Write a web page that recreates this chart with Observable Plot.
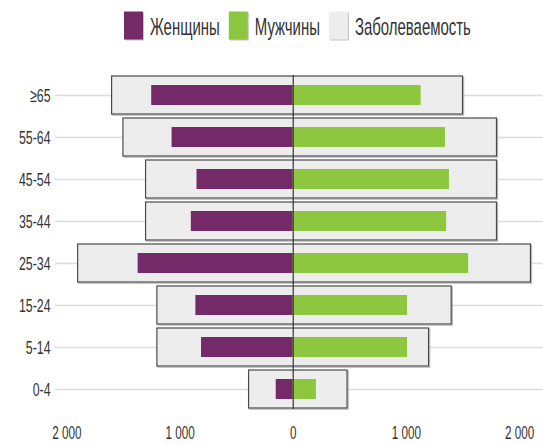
<!DOCTYPE html>
<html><head><meta charset="utf-8">
<script src="https://cdn.jsdelivr.net/npm/d3@7"></script>
<script src="https://cdn.jsdelivr.net/npm/@observablehq/plot@0.6"></script>
<style>
html,body{margin:0;padding:0;background:#fff;overflow:hidden;}
body{font-family:"Liberation Sans",Arial,sans-serif;}
svg{display:block;}
</style></head><body>
<div id="legend"></div>
<div id="chart"></div>
<script>
const ages = ["≥65","55-64","45-54","35-44","25-34","15-24","5-14","0-4"];
const women = [1250,1070,850,900,1370,860,810,150];
const men = [1130,1345,1380,1355,1550,1010,1010,205];
const incidenceWomen = [1600,1500,1300,1300,1900,1200,1200,390];
const incidenceMen = [1500,1800,1800,1800,2100,1400,1200,480];
const xTicks = [-2000,-1000,0,1000,2000];
const seriesNames = ["Женщины","Мужчины","Заболеваемость"];
const seriesColors = ["#742a68","#8dc63f","#ededed"];

const rows = ages.map((age,i)=>({age, women: women[i], men: men[i], incW: incidenceWomen[i], incM: incidenceMen[i]}));
const SQUISH = 0.65;

// Legend (above the chart)
const leg = d3.select("#legend").append("svg").attr("width",543).attr("height",52);
let lx = 124;
seriesNames.forEach((name,i)=>{
  leg.append("rect").attr("x",lx+1).attr("y",12.5).attr("width",19).attr("height",28).attr("fill","#c4c4c4");
  leg.append("rect").attr("x",lx).attr("y",11.5).attr("width",19).attr("height",28).attr("fill",seriesColors[i]);
  const t = leg.append("text")
    .attr("transform",`translate(${lx+26},35) scale(${SQUISH},1)`)
    .attr("font-size",23).attr("fill","#333")
    .attr("font-family","'Liberation Sans', Arial, sans-serif")
    .text(name);
  const w = t.node().getComputedTextLength()*SQUISH;
  lx += 26 + w + 9;
});

const fmt = d => d === 0 ? "0" : d3.format(",")(Math.abs(d)).replace(",", "\u00a0");

const chart = Plot.plot({
  width: 543, height: 393,
  marginLeft: 55, marginRight: 0, marginTop: 23, marginBottom: 36,
  style: {fontFamily: "'Liberation Sans', Arial, sans-serif", fontSize: "19px", color: "#333", background: "#fff"},
  x: {domain: [-2100, 2211]},
  y: {domain: ages, paddingInner: 0.1, paddingOuter: 0},
  marks: [
    Plot.ruleY(rows, {y: "age", stroke: "#dcdcdc", strokeWidth: 1.5}),
    Plot.barX(rows, {y: "age", x1: d => -d.incW, x2: d => d.incM, fill: "none", stroke: "#b0b0b0", strokeWidth: 1, dx: 1.2, dy: 1.2}),
    Plot.barX(rows, {y: "age", x1: d => -d.incW, x2: d => d.incM, fill: seriesColors[2], stroke: "#4a4a4a", strokeWidth: 1.2}),
    Plot.barX(rows, {y: "age", x1: d => -d.women, x2: 0, fill: seriesColors[0], insetTop: 9, insetBottom: 9}),
    Plot.barX(rows, {y: "age", x1: 0, x2: d => d.men, fill: seriesColors[1], insetTop: 9, insetBottom: 9}),
    Plot.ruleX([0], {stroke: "#333", strokeWidth: 1.2}),
    Plot.axisY({tickSize: 0, tickPadding: 5, label: null}),
    Plot.axisX({ticks: xTicks, tickFormat: fmt, tickSize: 0, tickPadding: 17, fontSize: 18, label: null})
  ]
});

// horizontally condense glyphs to match the narrow lettering of the reference
chart.querySelectorAll("text").forEach(t => {
  const x = parseFloat(t.getAttribute("x") || 0);
  if (x) t.removeAttribute("x");
  const tr = t.getAttribute("transform") || "";
  t.setAttribute("transform", `${tr} translate(${x},0) scale(${SQUISH},1)`);
});
document.getElementById("chart").appendChild(chart);
</script>
</body></html>
